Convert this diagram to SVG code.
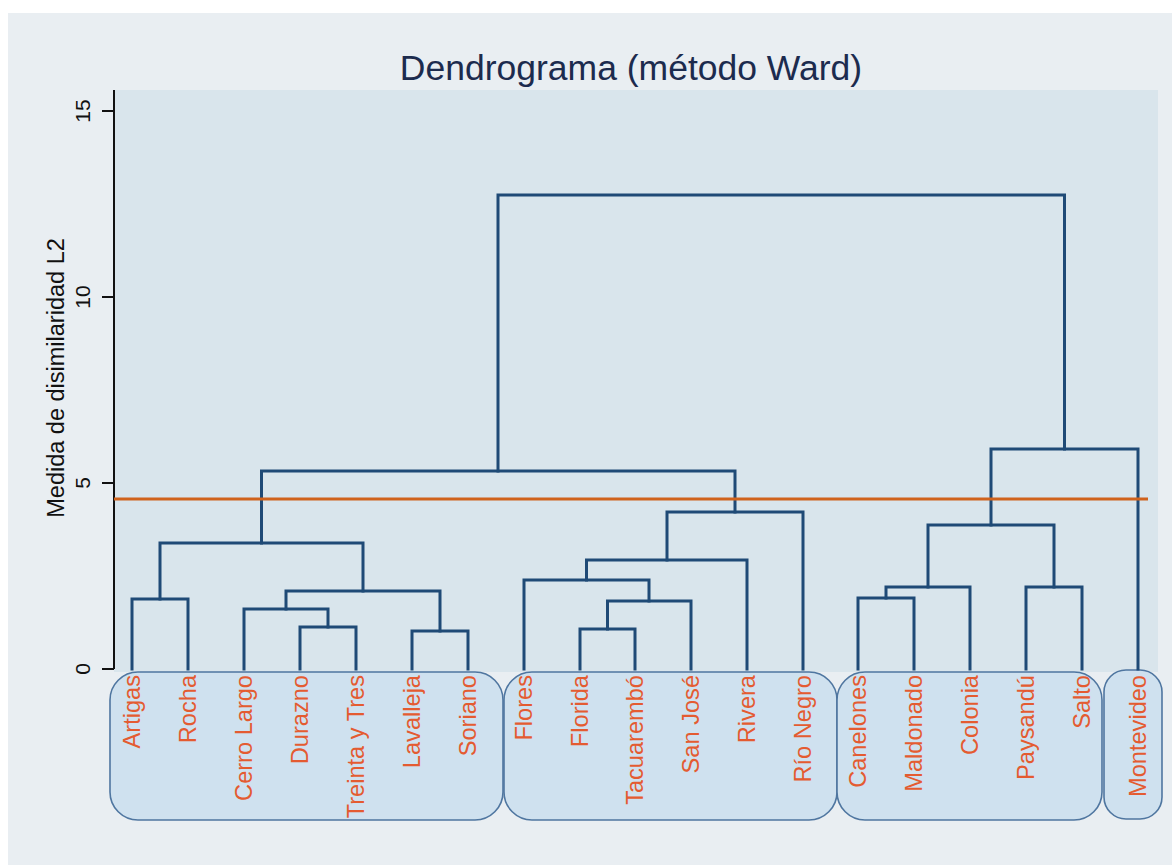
<svg xmlns="http://www.w3.org/2000/svg" width="1172" height="865" viewBox="0 0 1172 865">
<style>
.lbl{font-family:"Liberation Sans",Arial,sans-serif;font-size:23.6px;fill:#e45b31;text-anchor:end}
.tick{font-family:"Liberation Sans",Arial,sans-serif;font-size:21px;fill:#111;text-anchor:middle}
.br{fill:none;stroke:#1f4a76;stroke-width:3;stroke-linejoin:miter;stroke-linecap:square}
.box{fill:#cfe1ef;stroke:#4f76a0;stroke-width:1.6}
</style>
<rect x="0" y="0" width="1172" height="865" fill="#ffffff"/>
<rect x="8" y="13" width="1164" height="852" fill="#e9eef2"/>
<rect x="114" y="90" width="1044" height="582" fill="#d9e5ec"/>
<text x="631" y="80" font-family="'Liberation Sans',Arial,sans-serif" font-size="35.5" fill="#1c2b4e" text-anchor="middle">Dendrograma (método Ward)</text>
<g id="axis">
<path d="M114 90 V669 M102 669 H114 M102 483 H114 M102 297 H114 M102 111 H114" stroke="#111" stroke-width="2" fill="none"/>
<text class="tick" transform="translate(90 669) rotate(-90)">0</text>
<text class="tick" transform="translate(90 483) rotate(-90)">5</text>
<text class="tick" transform="translate(90 297) rotate(-90)">10</text>
<text class="tick" transform="translate(90 111) rotate(-90)">15</text>
<text transform="translate(64 378) rotate(-90)" font-family="'Liberation Sans',Arial,sans-serif" font-size="23.5" fill="#111" text-anchor="middle">Medida de disimilaridad L2</text>
</g>
<g id="box1"><rect class="box" x="110" y="672" width="393" height="148" rx="28"/></g>
<g id="box2"><rect class="box" x="504" y="672" width="333" height="148" rx="28"/></g>
<g id="box3"><rect class="box" x="837" y="672" width="265" height="148" rx="28"/></g>
<g id="box4"><rect class="box" x="1104" y="670" width="58" height="149" rx="22"/></g>
<g id="connectors">
<path class="br" d="M132 669 V599 H188 V669"/>
<path class="br" d="M300 669 V627 H356 V669"/>
<path class="br" d="M244 669 V609 H328 V627"/>
<path class="br" d="M412 669 V631 H468 V669"/>
<path class="br" d="M286 609 V591 H440 V631"/>
<path class="br" d="M160 599 V543 H363 V591"/>
<path class="br" d="M580 669 V629 H635 V669"/>
<path class="br" d="M607.5 629 V601 H691 V669"/>
<path class="br" d="M524 669 V580 H649 V601"/>
<path class="br" d="M586.5 580 V560 H747 V669"/>
<path class="br" d="M667 560 V512 H803 V669"/>
<path class="br" d="M261.5 543 V471 H735 V512"/>
<path class="br" d="M858 669 V598 H914 V669"/>
<path class="br" d="M886 598 V587 H970 V669"/>
<path class="br" d="M1026 669 V587 H1082 V669"/>
<path class="br" d="M928 587 V525 H1054 V587"/>
<path class="br" d="M991 525 V449 H1138 V669"/>
<path class="br" d="M498 471 V195 H1064.5 V449"/>
</g>
<g id="cutline"><path d="M114 499 H1148" stroke="#d0621c" stroke-width="3.2" fill="none"/></g>
<g id="leaf-artigas"><text class="lbl" transform="translate(140 675) rotate(-90)">Artigas</text></g>
<g id="leaf-rocha"><text class="lbl" transform="translate(196 675) rotate(-90)">Rocha</text></g>
<g id="leaf-cerrolargo"><text class="lbl" transform="translate(252 675) rotate(-90)">Cerro Largo</text></g>
<g id="leaf-durazno"><text class="lbl" transform="translate(308 675) rotate(-90)">Durazno</text></g>
<g id="leaf-treintaytres"><text class="lbl" transform="translate(364 675) rotate(-90)">Treinta y Tres</text></g>
<g id="leaf-lavalleja"><text class="lbl" transform="translate(420 675) rotate(-90)">Lavalleja</text></g>
<g id="leaf-soriano"><text class="lbl" transform="translate(476 675) rotate(-90)">Soriano</text></g>
<g id="leaf-flores"><text class="lbl" transform="translate(532 675) rotate(-90)">Flores</text></g>
<g id="leaf-florida"><text class="lbl" transform="translate(588 675) rotate(-90)">Florida</text></g>
<g id="leaf-tacuarembo"><text class="lbl" transform="translate(643 675) rotate(-90)">Tacuarembó</text></g>
<g id="leaf-sanjose"><text class="lbl" transform="translate(699 675) rotate(-90)">San José</text></g>
<g id="leaf-rivera"><text class="lbl" transform="translate(755 675) rotate(-90)">Rivera</text></g>
<g id="leaf-rionegro"><text class="lbl" transform="translate(811 675) rotate(-90)">Río Negro</text></g>
<g id="leaf-canelones"><text class="lbl" transform="translate(866 675) rotate(-90)">Canelones</text></g>
<g id="leaf-maldonado"><text class="lbl" transform="translate(922 675) rotate(-90)">Maldonado</text></g>
<g id="leaf-colonia"><text class="lbl" transform="translate(978 675) rotate(-90)">Colonia</text></g>
<g id="leaf-paysandu"><text class="lbl" transform="translate(1034 675) rotate(-90)">Paysandú</text></g>
<g id="leaf-salto"><text class="lbl" transform="translate(1090 675) rotate(-90)">Salto</text></g>
<g id="leaf-montevideo"><text class="lbl" transform="translate(1146 675) rotate(-90)">Montevideo</text></g>
</svg>
